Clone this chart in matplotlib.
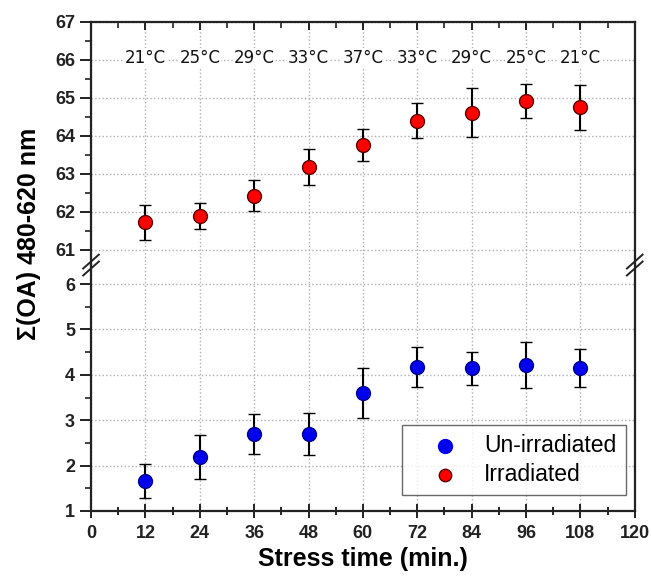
import matplotlib
matplotlib.use('Agg')
import matplotlib.pyplot as plt
from matplotlib.ticker import MultipleLocator

# data
stress_time = [12, 24, 36, 48, 60, 72, 84, 96, 108]
temperatures = ['21°C', '25°C', '29°C', '33°C', '37°C', '33°C', '29°C', '25°C', '21°C']
irradiated = [61.72, 61.89, 62.42, 63.18, 63.77, 64.40, 64.61, 64.92, 64.75]
irradiated_err = [0.47, 0.33, 0.41, 0.47, 0.42, 0.46, 0.64, 0.45, 0.59]
unirradiated = [1.66, 2.19, 2.70, 2.69, 3.60, 4.18, 4.14, 4.22, 4.15]
unirradiated_err = [0.37, 0.48, 0.44, 0.46, 0.55, 0.44, 0.37, 0.50, 0.42]

plt.rcParams['font.family'] = ['Liberation Sans', 'DejaVu Sans']

fig = plt.figure(figsize=(6.52, 5.78), dpi=100)
left, width = 0.1396, 0.834
brk = 0.5415
ax_top = fig.add_axes([left, brk, width, 0.962 - brk])
ax_bot = fig.add_axes([left, 0.116, width, brk - 0.116])

spine_color = '#222222'
for ax in (ax_top, ax_bot):
    ax.set_xlim(0, 120)
    ax.xaxis.set_major_locator(MultipleLocator(12))
    ax.xaxis.set_minor_locator(MultipleLocator(6))
    ax.yaxis.set_major_locator(MultipleLocator(1))
    ax.yaxis.set_minor_locator(MultipleLocator(0.5))
    ax.grid(True, which='major', linestyle=':', color='#b0b0b0', linewidth=1.0)
    ax.set_axisbelow(True)
    for s in ax.spines.values():
        s.set_linewidth(1.6)
        s.set_color(spine_color)
    ax.tick_params(axis='y', which='major', direction='out', length=8, width=1.4,
                   labelsize=13, colors=spine_color, right=False)
    ax.tick_params(axis='y', which='minor', direction='out', length=4, width=1.2,
                   colors=spine_color, right=False)
    for lab in ax.get_yticklabels():
        lab.set_fontweight('bold')

ax_top.set_ylim(60.6, 67)
ax_bot.set_ylim(1, 6.42)

ax_top.spines['bottom'].set_visible(False)
ax_bot.spines['top'].set_visible(False)

ax_top.tick_params(axis='x', which='both', bottom=False, top=True, labelbottom=False,
                   direction='in', colors=spine_color)
ax_top.tick_params(axis='x', which='major', length=6, width=1.4)
ax_top.tick_params(axis='x', which='minor', length=4, width=1.2)
ax_bot.tick_params(axis='x', which='major', direction='inout', length=10, width=1.4,
                   labelsize=13, colors=spine_color, top=False, pad=5)
ax_bot.tick_params(axis='x', which='minor', direction='inout', length=6, width=1.2,
                   top=False)
for lab in ax_bot.get_xticklabels():
    lab.set_fontweight('bold')

ax_top.errorbar(stress_time, irradiated, yerr=irradiated_err, fmt='o', color='red',
                markersize=10, markeredgecolor='#5a0000', markeredgewidth=1.0,
                ecolor='black', elinewidth=1.5, capsize=4, capthick=1.5, zorder=3)
ax_bot.errorbar(stress_time, unirradiated, yerr=unirradiated_err, fmt='o', color='#0000ee',
                markersize=10, markeredgecolor='#00008b', markeredgewidth=1.0,
                ecolor='black', elinewidth=1.5, capsize=4, capthick=1.5, zorder=3)

for t, lab in zip(stress_time, temperatures):
    ax_top.text(t, 66.05, lab, ha='center', va='center', fontsize=12,
                family=['DejaVu Sans'], color='#111111',
                bbox=dict(facecolor='white', edgecolor='none', pad=0.5))

# break marks
d = 0.012
for x in (0, 1):
    for off in (-0.006, 0.006):
        fig.lines.append(plt.Line2D([left + x * width - d, left + x * width + d],
                                    [brk + off - 0.012, brk + off + 0.012],
                                    transform=fig.transFigure, color=spine_color, linewidth=1.4))

h1 = ax_bot.scatter([], [], s=100, color='#0000ee')
h2 = ax_bot.scatter([], [], s=80, color='red', edgecolor='#5a0000')
leg = ax_bot.legend([h1, h2], ['Un-irradiated', 'Irradiated'], loc='lower right',
                    bbox_to_anchor=(0.983, 0.065), fontsize=16.5, frameon=True, fancybox=False,
                    edgecolor='#444444', handletextpad=0.2, borderpad=0.4, labelspacing=0.25,
                    borderaxespad=0.0, scatterpoints=1, handlelength=3.0)
leg.get_frame().set_linewidth(1.0)

ax_bot.set_xlabel('Stress time (min.)', fontsize=18, fontweight='bold', labelpad=4)
fig.text(0.045, 0.595, 'Σ(OA) 480-620 nm', rotation=90, ha='center', va='center',
         fontsize=18, fontweight='bold')

fig.savefig('out.png', dpi=100)
